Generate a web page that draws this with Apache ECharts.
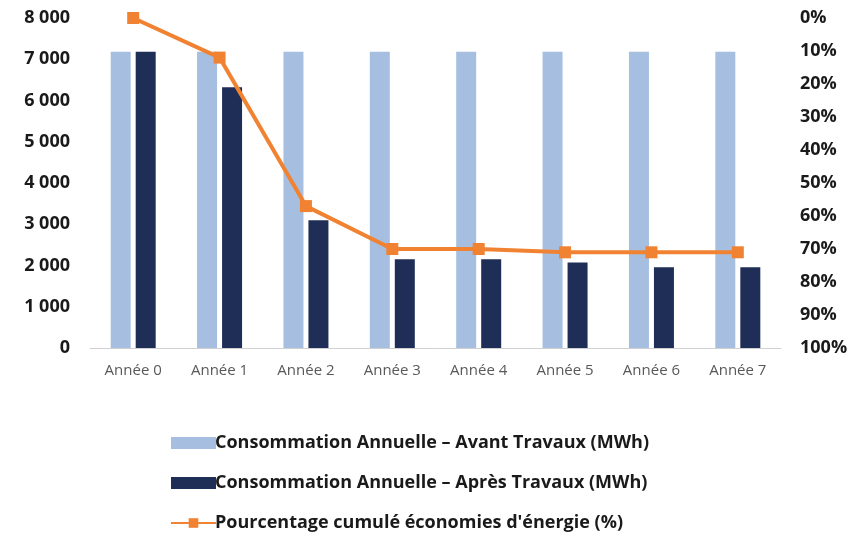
<!DOCTYPE html>
<html>
<head>
<meta charset="utf-8">
<script src="https://cdn.jsdelivr.net/npm/echarts@6/dist/echarts.min.js"></script>
<style>
  html, body { margin: 0; padding: 0; background: #fff; }
  #chart { width: 864px; height: 533px; }
</style>
</head>
<body>
<div id="chart"></div>
<script>
// categories
var annees = ["Année 0", "Année 1", "Année 2", "Année 3", "Année 4", "Année 5", "Année 6", "Année 7"];
// consommation (MWh)
var avantTravaux = [7180, 7180, 7180, 7180, 7180, 7180, 7180, 7180];
var apresTravaux = [7180, 6320, 3100, 2150, 2150, 2070, 1960, 1960];
// pourcentage cumulé (%)
var economies = [0, 12, 57, 70, 70, 71, 71, 71];

var txt = "'Open Sans', 'Noto Sans', sans-serif";

var myChart = echarts.init(document.getElementById("chart"));
var option = {
  animation: false,
  textStyle: { fontFamily: txt },
  grid: {
    left: 90,
    right: 83,
    top: 18,
    bottom: 185,
  },
  legend: {
    orient: "vertical",
    left: 165,
    top: 429,
    height: 140,
    itemGap: 22,
    itemWidth: 45,
    itemHeight: 12,
    textStyle: {
      fontFamily: txt,
      fontSize: 18,
      fontWeight: "bold",
      color: "#1a1a1a",
      padding: [0, 0, 0, -6],
    },
    data: [
      { name: "Consommation Annuelle – Avant Travaux (MWh)", icon: "rect" },
      { name: "Consommation Annuelle – Après Travaux (MWh)", icon: "rect" },
      { name: "Pourcentage cumulé économies d'énergie (%)" },
    ],
  },
  xAxis: {
    type: "category",
    data: annees,
    axisTick: { show: false },
    axisLine: { lineStyle: { color: "#d0d0d0", width: 1 } },
    axisLabel: {
      color: "#595959",
      fontSize: 15,
      margin: 15,
    },
  },
  yAxis: [
    {
      type: "value",
      min: 0,
      max: 8000,
      interval: 1000,
      splitLine: { show: false },
      axisLine: { show: false },
      axisTick: { show: false },
      axisLabel: {
        color: "#1a1a1a",
        fontSize: 18,
        fontWeight: "bold",
        margin: 20,
        formatter: function (v) {
          return String(v).replace(/\B(?=(\d{3})+(?!\d))/g, " ");
        },
      },
    },
    {
      type: "value",
      inverse: true,
      min: 0,
      max: 100,
      interval: 10,
      splitLine: { show: false },
      axisLine: { show: false },
      axisTick: { show: false },
      axisLabel: {
        color: "#1a1a1a",
        fontSize: 18,
        fontWeight: "bold",
        margin: 19,
        formatter: "{value}%",
      },
    },
  ],
  series: [
    {
      name: "Consommation Annuelle – Avant Travaux (MWh)",
      type: "bar",
      barWidth: 20,
      barGap: "25%",
      itemStyle: { color: "#a6bfe0" },
      data: avantTravaux,
    },
    {
      name: "Consommation Annuelle – Après Travaux (MWh)",
      type: "bar",
      barWidth: 20,
      itemStyle: { color: "#1f2e57" },
      data: apresTravaux,
    },
    {
      name: "Pourcentage cumulé économies d'énergie (%)",
      type: "line",
      yAxisIndex: 1,
      symbol: "rect",
      symbolSize: 12,
      lineStyle: { color: "#f08232", width: 4 },
      itemStyle: { color: "#f08232" },
      data: economies,
      z: 5,
    },
  ],
};
myChart.setOption(option);
</script>
</body>
</html>
